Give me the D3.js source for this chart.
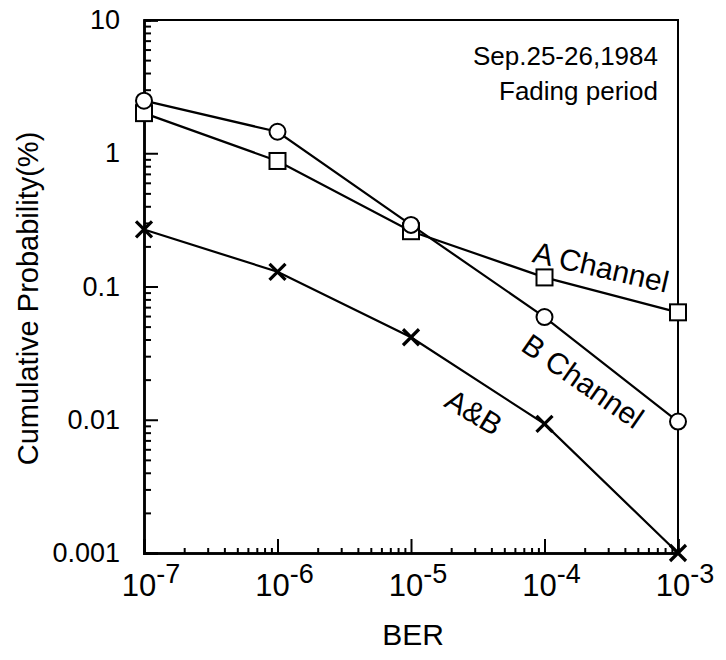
<!DOCTYPE html>
<html>
<head>
<meta charset="utf-8">
<script src="https://d3js.org/d3.v7.min.js"></script>
<title>BER cumulative probability</title>
<style>
	body { margin: 0; background: #fff; }
	text { font-family: "Liberation Sans", Arial, Helvetica, sans-serif; fill: #000; }
</style>
</head>
<body>
<div id="chart"></div>
<script type="text/javascript">

	// values
	var ber = [1e-7, 1e-6, 1e-5, 1e-4, 1e-3];
	var aChannel = [2.0, 0.875, 0.26, 0.117, 0.064];
	var bChannel = [2.48, 1.45, 0.29, 0.059, 0.0097];
	var aAndB = [0.268, 0.129, 0.0416, 0.0093, 0.001];

	var yTicks = [10, 1, 0.1, 0.01, 0.001];
	var yTickLabels = ["10", "1", "0.1", "0.01", "0.001"];
	var xTickExp = ["-7", "-6", "-5", "-4", "-3"];

	var curveNames = ["A Channel", "B Channel", "A&B"];

	var svgwidth = 726, svgheight = 660;
	var margin = {left: 144, top: 20, right: 48, bottom: 107};
	var w = svgwidth - margin.left - margin.right;
	var h = svgheight - margin.top - margin.bottom;

	var svg = d3.select("#chart").append("svg")
		.attr("width", svgwidth)
		.attr("height", svgheight);

	var g = svg.append("g")
		.attr("transform", "translate(" + margin.left + "," + margin.top + ")");

	var xScale = d3.scaleLog().domain([1e-7, 1e-3]).range([0, w]);
	var yScale = d3.scaleLog().domain([0.001, 10]).range([h, 0]);

	// minor ticks 2..9 in every decade
	var xMinor = [], yMinor = [];
	for (var e = -7; e < -3; e++) {
		for (var m = 2; m < 10; m++) xMinor.push(m * Math.pow(10, e));
	}
	for (var e = -3; e < 1; e++) {
		for (var m = 2; m < 10; m++) yMinor.push(m * Math.pow(10, e));
	}

	// frame (top + right)
	g.append("path")
		.attr("d", "M0,0H" + w + "V" + h)
		.attr("fill", "none")
		.attr("stroke", "#000")
		.attr("stroke-width", 2);

	// axes with inward ticks
	var yAxisMinor = d3.axisLeft(yScale).tickValues(yMinor).tickSize(-7).tickFormat("");
	var yAxisMajor = d3.axisLeft(yScale).tickValues(yTicks).tickSize(-14).tickPadding(24)
		.tickFormat(function(d, i){ return yTickLabels[i]; });
	var xAxisMinor = d3.axisBottom(xScale).tickValues(xMinor).tickSize(-5).tickFormat("");
	var xAxisMajor = d3.axisBottom(xScale).tickValues(ber).tickSize(-14).tickFormat("");

	g.append("g").call(yAxisMinor).attr("class", "yMinor");
	g.append("g").call(yAxisMajor).attr("class", "yAxis");
	g.append("g").call(xAxisMinor).attr("class", "xMinor")
		.attr("transform", "translate(0," + h + ")");
	g.append("g").call(xAxisMajor).attr("class", "xAxis")
		.attr("transform", "translate(0," + h + ")");

	g.selectAll(".domain").attr("stroke", "#000").attr("stroke-width", 2.5);
	g.selectAll(".tick line").attr("stroke", "#000").attr("stroke-width", 2);
	g.selectAll(".yAxis text")
		.attr("font-size", 27)
		.attr("font-family", "Liberation Sans, Arial, sans-serif");

	// x tick labels as 10 with exponent
	var xlab = g.append("g").selectAll("text.xl")
		.data(ber).enter().append("text")
		.attr("class", "xl")
		.attr("x", function(d){ return xScale(d) + 7; })
		.attr("y", h + 43)
		.attr("text-anchor", "middle")
		.attr("font-size", 31);
	xlab.append("tspan").text("10");
	xlab.append("tspan")
		.attr("dy", -13)
		.attr("font-size", 27)
		.text(function(d, i){ return xTickExp[i]; });

	// axis titles
	svg.append("text")
		.attr("x", margin.left + w / 2 + 2)
		.attr("y", 645)
		.attr("text-anchor", "middle")
		.attr("font-size", 30)
		.text("BER");

	svg.append("text")
		.attr("transform", "translate(38," + (margin.top + h / 2 + 12) + ") rotate(-90)")
		.attr("text-anchor", "middle")
		.attr("font-size", 29)
		.text("Cumulative Probability(%)");

	// lines
	var line = d3.line()
		.x(function(d){ return xScale(d[0]); })
		.y(function(d){ return yScale(d[1]); });

	var series = [aChannel, bChannel, aAndB];
	series.forEach(function(vals){
		g.append("path")
			.datum(d3.zip(ber, vals))
			.attr("d", line)
			.attr("fill", "none")
			.attr("stroke", "#000")
			.attr("stroke-width", 2.2);
	});

	// markers
	g.selectAll("rect.sq")
		.data(d3.zip(ber, aChannel)).enter().append("rect")
		.attr("class", "sq")
		.attr("x", function(d){ return xScale(d[0]) - 8; })
		.attr("y", function(d){ return yScale(d[1]) - 8; })
		.attr("width", 16).attr("height", 16)
		.attr("fill", "#fff").attr("stroke", "#000").attr("stroke-width", 2);

	g.selectAll("circle")
		.data(d3.zip(ber, bChannel)).enter().append("circle")
		.attr("cx", function(d){ return xScale(d[0]); })
		.attr("cy", function(d){ return yScale(d[1]); })
		.attr("r", 8)
		.attr("fill", "#fff").attr("stroke", "#000").attr("stroke-width", 2);

	g.selectAll("path.cross")
		.data(d3.zip(ber, aAndB)).enter().append("path")
		.attr("class", "cross")
		.attr("d", function(d){
			var cx = xScale(d[0]), cy = yScale(d[1]), s = 8;
			return "M" + (cx - s) + "," + (cy - s) + "L" + (cx + s) + "," + (cy + s) +
				"M" + (cx - s) + "," + (cy + s) + "L" + (cx + s) + "," + (cy - s);
		})
		.attr("stroke", "#000")
		.attr("stroke-width", 3.2);

	// curve labels, placed in data space
	var labelAt = [[2.65e-4, 0.14, 13], [1.94e-4, 0.0195, 35], [2.96e-5, 0.0114, 31]];
	curveNames.forEach(function(name, i){
		var p = labelAt[i];
		g.append("text")
			.attr("transform", "translate(" + xScale(p[0]) + "," + yScale(p[1]) + ") rotate(" + p[2] + ")")
			.attr("text-anchor", "middle")
			.attr("dy", "0.35em")
			.attr("font-size", 30)
			.text(name);
	});

	// note in the top right corner
	svg.append("text")
		.attr("x", 658).attr("y", 65)
		.attr("text-anchor", "end")
		.attr("font-size", 26)
		.text("Sep.25-26,1984");
	svg.append("text")
		.attr("x", 658).attr("y", 100)
		.attr("text-anchor", "end")
		.attr("font-size", 26)
		.text("Fading period");

</script>
</body>
</html>
